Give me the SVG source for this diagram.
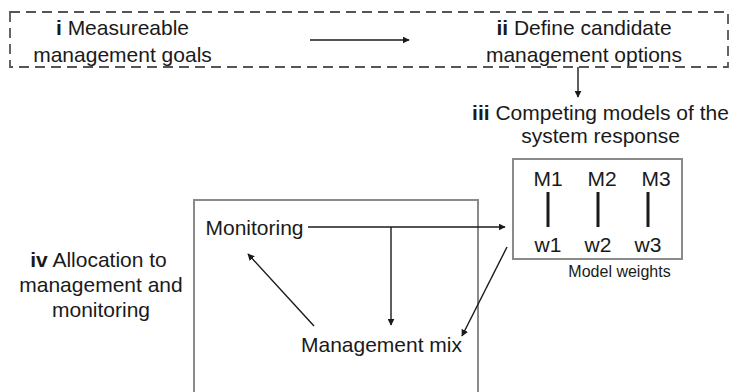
<svg xmlns="http://www.w3.org/2000/svg" width="732" height="392" viewBox="0 0 732 392">
<defs>
<style>
text{font-family:"Liberation Sans",Arial,sans-serif;fill:#1a1a1a;}
.t{font-size:21px;text-anchor:middle;}
.s{font-size:16px;text-anchor:middle;}
.c{stroke:#1a1a1a;stroke-width:1.4;fill:none;}
.box{stroke:#8a8a8a;stroke-width:2;fill:none;}
</style>
<marker id="ah" viewBox="0 0 10 10" refX="9" refY="5" markerWidth="7" markerHeight="7" markerUnits="userSpaceOnUse" orient="auto">
<path d="M0,0 L10,5 L0,10 z" fill="#1a1a1a"/>
</marker>
</defs>
<rect width="732" height="392" fill="#ffffff"/>
<g id="dashed-frame">
<rect x="10" y="12" width="718" height="55" fill="none" stroke="#555" stroke-width="1.8" stroke-dasharray="10,6"/>
</g>
<g id="node-i">
<text class="t" x="122.5" y="35"><tspan font-weight="bold">i</tspan> Measureable</text>
<text class="t" x="122.5" y="62">management goals</text>
</g>
<g id="node-ii">
<text class="t" x="584" y="35"><tspan font-weight="bold">ii</tspan> Define candidate</text>
<text class="t" x="584" y="62">management options</text>
</g>
<g id="node-iii">
<text class="t" x="600.5" y="120"><tspan font-weight="bold">iii</tspan> Competing models of the</text>
<text class="t" x="600.5" y="143">system response</text>
</g>
<g id="node-models">
<rect class="box" x="513" y="159" width="169" height="100"/>
<text class="t" x="548" y="186">M1</text>
<text class="t" x="602" y="186">M2</text>
<text class="t" x="656" y="186">M3</text>
<line x1="548" y1="192" x2="548" y2="227" stroke="#1a1a1a" stroke-width="3"/>
<line x1="598" y1="192" x2="598" y2="227" stroke="#1a1a1a" stroke-width="3"/>
<line x1="648" y1="192" x2="648" y2="227" stroke="#1a1a1a" stroke-width="3"/>
<text class="t" x="548" y="252">w1</text>
<text class="t" x="598" y="252">w2</text>
<text class="t" x="648" y="252">w3</text>
<text class="s" x="619.5" y="277">Model weights</text>
</g>
<g id="node-iv">
<text class="t" x="98.5" y="267"><tspan font-weight="bold">iv</tspan> Allocation to</text>
<text class="t" x="101" y="292">management and</text>
<text class="t" x="101" y="317">monitoring</text>
</g>
<g id="node-allocation-box">
<rect class="box" x="194" y="200" width="284" height="210"/>
</g>
<g id="node-monitoring">
<text class="t" x="254.5" y="235">Monitoring</text>
</g>
<g id="node-mix">
<text class="t" x="381.5" y="352">Management mix</text>
</g>
<g id="connectors">
<line class="c" x1="310" y1="40" x2="409" y2="40" marker-end="url(#ah)"/>
<line class="c" x1="578" y1="67" x2="578" y2="97" marker-end="url(#ah)"/>
<line class="c" x1="308" y1="227" x2="505" y2="227" marker-end="url(#ah)"/>
<line class="c" x1="391" y1="227" x2="391" y2="325" marker-end="url(#ah)"/>
<line class="c" x1="507" y1="247" x2="462" y2="336" marker-end="url(#ah)"/>
<line class="c" x1="314" y1="326" x2="248" y2="254" marker-end="url(#ah)"/>
</g>
</svg>
